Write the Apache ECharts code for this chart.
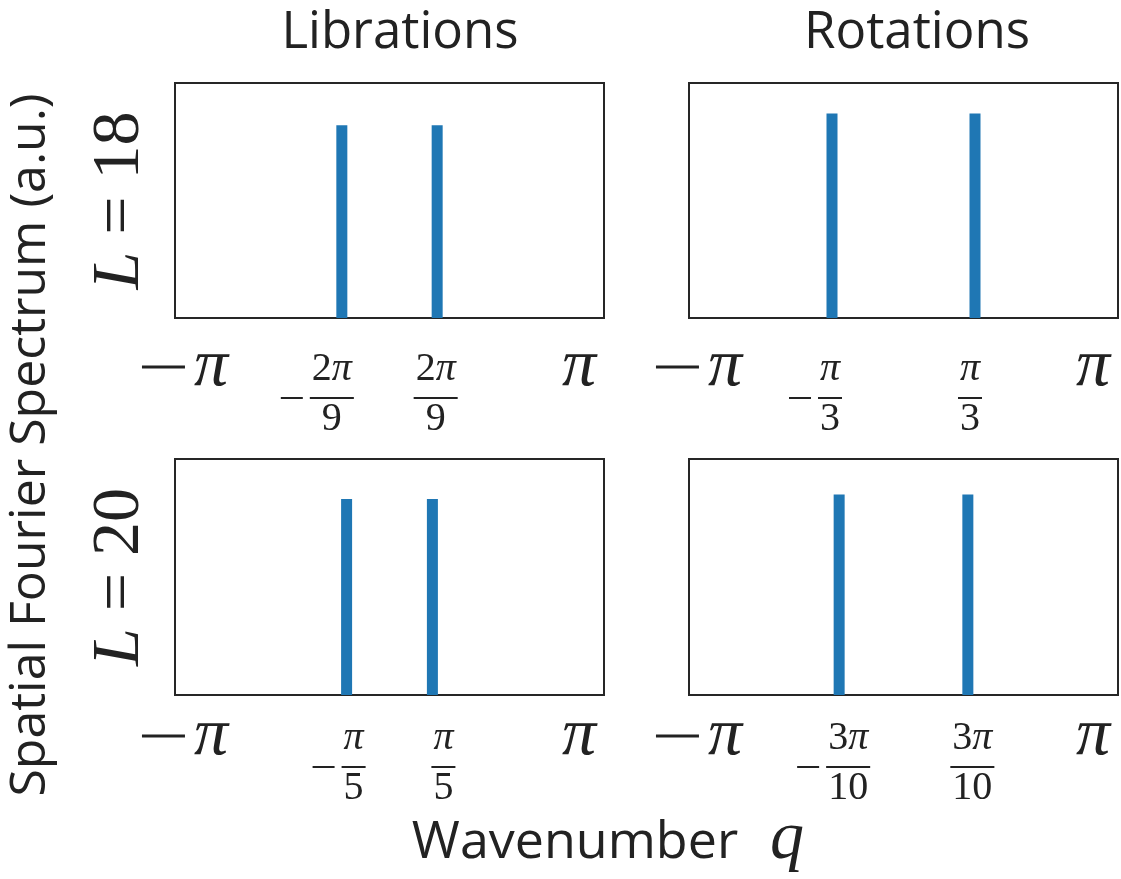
<!DOCTYPE html>
<html>
<head>
<meta charset="utf-8">
<script src="https://cdn.jsdelivr.net/npm/echarts@6/dist/echarts.min.js"></script>
<style>
  html, body { margin: 0; padding: 0; background: #fff; }
  #chart { width: 1121px; height: 879px; }
</style>
</head>
<body>
<div id="chart"></div>
<script>
const PI = Math.PI;

// Peak wavenumbers q and spectral amplitudes (a.u.) for each panel
const qLibrationsL18 = [-2 * PI / 9, 2 * PI / 9];
const ampLibrationsL18 = [0.82, 0.82];
const qRotationsL18 = [-PI / 3, PI / 3];
const ampRotationsL18 = [0.87, 0.87];
const qLibrationsL20 = [-PI / 5, PI / 5];
const ampLibrationsL20 = [0.83, 0.83];
const qRotationsL20 = [-3 * PI / 10, 3 * PI / 10];
const ampRotationsL20 = [0.85, 0.85];

// Tick positions and their labels
const tickValsLibrationsL18 = [-PI, -2 * PI / 9, 2 * PI / 9, PI];
const tickTextLibrationsL18 = ['−π', '−2π/9', '2π/9', 'π'];
const tickValsRotationsL18 = [-PI, -PI / 3, PI / 3, PI];
const tickTextRotationsL18 = ['−π', '−π/3', 'π/3', 'π'];
const tickValsLibrationsL20 = [-PI, -PI / 5, PI / 5, PI];
const tickTextLibrationsL20 = ['−π', '−π/5', 'π/5', 'π'];
const tickValsRotationsL20 = [-PI, -3 * PI / 10, 3 * PI / 10, PI];
const tickTextRotationsL20 = ['−π', '−3π/10', '3π/10', 'π'];

const columnTitles = ['Librations', 'Rotations'];
const rowSizes = ['18', '20'];
const yTitle = 'Spatial Fourier Spectrum (a.u.)';
const xTitle = 'Wavenumber';
const xSymbol = 'q';

// ---- styling ----
const MATH = "'Liberation Serif', 'DejaVu Serif', serif";
const SANS = "'Open Sans', 'Noto Sans', sans-serif";
const INK = '#222222';
const FRAME = '#262626';
const BAR = '#1f77b4';

// horizontal nudge of each tick label relative to its tick (px)
const labelShift = {
  '−π': 10, 'π': -25,
  '−2π/9': -10, '2π/9': -1.5,
  '−π/3': -2, 'π/3': -5,
  '−π/5': 7, 'π/5': 11,
  '−3π/10': 9, '3π/10': 4.5
};

const panels = [
  { q: qLibrationsL18, amp: ampLibrationsL18, tv: tickValsLibrationsL18, tt: tickTextLibrationsL18, row: 0, col: 0 },
  { q: qRotationsL18, amp: ampRotationsL18, tv: tickValsRotationsL18, tt: tickTextRotationsL18, row: 0, col: 1 },
  { q: qLibrationsL20, amp: ampLibrationsL20, tv: tickValsLibrationsL20, tt: tickTextLibrationsL20, row: 1, col: 0 },
  { q: qRotationsL20, amp: ampRotationsL20, tv: tickValsRotationsL20, tt: tickTextRotationsL20, row: 1, col: 1 }
];

const colLeft = [175, 689];
const rowTop = [83, 459];
const rowHeight = [235, 236];
const plotWidth = 429;
const labelMargin = [28, 20];

const measureCtx = document.createElement('canvas').getContext('2d');
function textWidth(str, size, italic) {
  measureCtx.font = (italic ? 'italic ' : '') + size + 'px ' + MATH;
  return measureCtx.measureText(str).width;
}
// split a math string into upright / italic (π) runs
function runs(str) {
  const out = [];
  for (const ch of str) {
    const it = ch === 'π';
    if (out.length && out[out.length - 1][1] === it) out[out.length - 1][0] += ch;
    else out.push([ch, it]);
  }
  return out;
}

function buildTickLabels(texts) {
  const FR = 40, BIG = 68;
  const L1 = 47, L2 = 10, L3 = 33, LB = 42;
  const rich = {
    nu: { fontFamily: MATH, fontSize: FR, lineHeight: L1, color: INK },
    ni: { fontFamily: MATH, fontSize: FR, lineHeight: L1, color: INK, fontStyle: 'italic' },
    du: { fontFamily: MATH, fontSize: FR, lineHeight: L3, color: INK },
    di: { fontFamily: MATH, fontSize: FR, lineHeight: L3, color: INK, fontStyle: 'italic' },
    // minus signs drawn as thin rules so they keep the wide math-minus proportions
    fmb: { width: 22, height: 2, lineHeight: L2, backgroundColor: INK },
    bmb: { width: 43, height: 3, lineHeight: LB, backgroundColor: INK },
    bm: { fontFamily: MATH, fontSize: BIG, lineHeight: LB, color: INK },
    bp: { fontFamily: MATH, fontSize: BIG, lineHeight: LB, color: INK, fontStyle: 'italic' }
  };
  const spacer = w => {
    if (w <= 0.05) return '';
    const name = 'w' + Math.round(w * 10);
    if (!rich[name]) rich[name] = { width: w, height: 1, lineHeight: 1 };
    return '{' + name + '|}';
  };
  const strings = texts.map((t, i) => {
    const neg = t[0] === '−';
    const body = neg ? t.slice(1) : t;
    const s = labelShift[t] || 0;
    if (body.indexOf('/') < 0) {
      let str = spacer(s > 0 ? 2 * s : 0);
      if (neg) str += '{bmb|}' + spacer(9);
      runs(body).forEach(([txt, it]) => { str += '{' + (it ? 'bp' : 'bm') + '|' + txt + '}'; });
      str += spacer(s < 0 ? -2 * s : 0);
      return str;
    }
    const [num, den] = body.split('/');
    const width = parts => parts.reduce((w, [txt, it]) => w + textWidth(txt, FR, it), 0);
    const numRuns = runs(num), denRuns = runs(den);
    const numW = width(numRuns), denW = width(denRuns);
    const barW = Math.max(numW, denW) + 4;
    const m = neg ? 29 : 0;
    const d = 2 * s - m;
    const a = d > 0 ? d : 0, b = d < 0 ? -d : 0;
    const barName = 'bar' + i;
    rich[barName] = { width: barW, height: 2, lineHeight: L2, backgroundColor: INK };
    const frame = inner => spacer(a) + inner + spacer(b);
    const stack = (parts, w, u, it) => {
      const pad = (barW - w) / 2;
      let str = spacer(pad);
      parts.forEach(([txt, ital]) => { str += '{' + (ital ? it : u) + '|' + txt + '}'; });
      return str + spacer(pad);
    };
    const line1 = frame(spacer(m) + stack(numRuns, numW, 'nu', 'ni'));
    const line2 = frame((neg ? '{fmb|}' + spacer(7) : '') + '{' + barName + '|}');
    const line3 = frame(spacer(m) + stack(denRuns, denW, 'du', 'di'));
    return line1 + '\n' + line2 + '\n' + line3;
  });
  return { rich, strings };
}

const grids = [], xAxes = [], yAxes = [], series = [];
panels.forEach((p, i) => {
  grids.push({
    left: colLeft[p.col], top: rowTop[p.row], width: plotWidth, height: rowHeight[p.row],
    show: true, borderColor: FRAME, borderWidth: 2, backgroundColor: 'transparent',
    containLabel: false, outerBoundsMode: 'none'
  });
  const lab = buildTickLabels(p.tt);
  xAxes.push({
    gridIndex: i, type: 'value', min: -PI, max: PI,
    axisLine: { show: false }, axisTick: { show: false }, splitLine: { show: false },
    axisLabel: {
      customValues: p.tv,
      showMinLabel: true, showMaxLabel: true, hideOverlap: false,
      margin: labelMargin[p.row],
      rich: lab.rich,
      formatter: v => {
        let best = 0;
        p.tv.forEach((tv, k) => { if (Math.abs(tv - v) < Math.abs(p.tv[best] - v)) best = k; });
        return lab.strings[best];
      }
    }
  });
  yAxes.push({
    gridIndex: i, type: 'value', min: 0, max: 1,
    axisLine: { show: false }, axisTick: { show: false }, splitLine: { show: false },
    axisLabel: { show: false },
    name: p.col === 0 ? '{li|L}{eq| = ' + rowSizes[p.row] + '}' : '',
    nameLocation: 'middle', nameRotate: 90, nameGap: 21,
    nameTextStyle: {
      rich: {
        li: { fontFamily: MATH, fontSize: 68, fontStyle: 'italic', color: INK },
        eq: { fontFamily: MATH, fontSize: 68, color: INK }
      }
    }
  });
  series.push({
    type: 'bar', xAxisIndex: i, yAxisIndex: i,
    data: p.q.map((q, k) => [q, p.amp[k]]),
    barWidth: 11, itemStyle: { color: BAR }, silent: true
  });
});

const graphic = [
  { type: 'text', x: 400, y: 33, style: { text: columnTitles[0], font: '51px ' + SANS, fill: INK, align: 'center', verticalAlign: 'middle' } },
  { type: 'text', x: 917, y: 33, style: { text: columnTitles[1], font: '51px ' + SANS, fill: INK, align: 'center', verticalAlign: 'middle' } },
  { type: 'text', x: 31, y: 445, rotation: PI / 2, style: { text: yTitle, font: '50px ' + SANS, fill: INK, align: 'center', verticalAlign: 'middle' } },
  { type: 'text', x: 575, y: 843, style: { text: xTitle, font: '52px ' + SANS, fill: INK, align: 'center', verticalAlign: 'middle' } },
  { type: 'text', x: 787, y: 840, style: { text: xSymbol, font: 'italic 68px ' + MATH, fill: INK, align: 'center', verticalAlign: 'middle' } }
];

const chart = echarts.init(document.getElementById('chart'));
chart.setOption({
  animation: false,
  backgroundColor: '#ffffff',
  grid: grids,
  xAxis: xAxes,
  yAxis: yAxes,
  series: series,
  graphic: graphic
});
</script>
</body>
</html>
